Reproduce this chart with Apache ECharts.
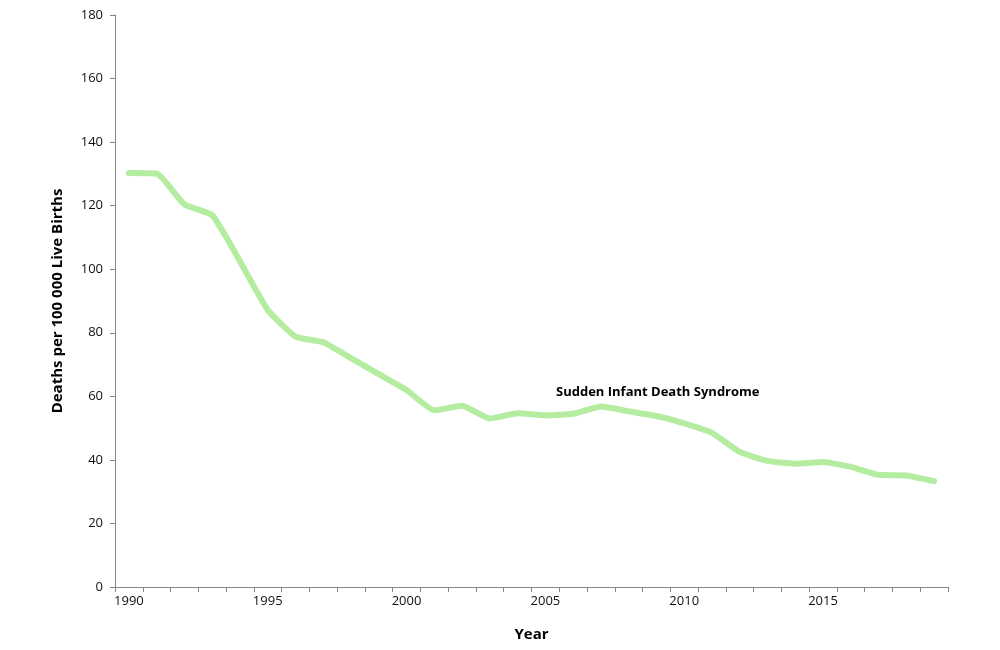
<!DOCTYPE html>
<html><head><meta charset="utf-8">
<script src="https://cdn.jsdelivr.net/npm/echarts@6/dist/echarts.min.js"></script>
<style>html,body{margin:0;padding:0;background:#fff}#c{width:1000px;height:650px}</style>
</head><body><div id="c"></div>
<script>
const years = [];
for (let y = 1990; y <= 2019; y++) years.push(String(y));
const sidsRate = [130.3, 130.1, 120.4, 117.0, 102.5, 87.2, 78.8, 77.0, 72.0, 67.0,
  62.0, 55.6, 57.0, 53.0, 54.7, 54.0, 54.5, 56.8, 55.3, 53.8,
  51.5, 48.5, 42.5, 39.7, 38.8, 39.3, 37.8, 35.3, 35.1, 33.3];
const seriesLabel = 'Sudden Infant Death Syndrome';
const yTicks = {min: 0, max: 180, interval: 20};

const font = '"Open Sans", "Noto Sans", sans-serif';
const chart = echarts.init(document.getElementById('c'));
chart.setOption({
  animation: false,
  grid: {left: 115, right: 52, top: 15, bottom: 63},
  xAxis: {
    type: 'category', data: years, boundaryGap: true,
    name: 'Year', nameLocation: 'middle', nameGap: 40,
    nameTextStyle: {fontFamily: font, fontWeight: 'bold', fontSize: 15, color: '#000'},
    axisLine: {lineStyle: {color: '#868686', width: 1}},
    axisTick: {show: true, interval: 0, length: 5, lineStyle: {color: '#868686'}},
    axisLabel: {interval: 4, fontFamily: font, fontSize: 13, color: '#111', margin: 8}
  },
  yAxis: {
    type: 'value', min: yTicks.min, max: yTicks.max, interval: yTicks.interval,
    name: 'Deaths per 100 000 Live Births', nameLocation: 'middle', nameGap: 50,
    nameTextStyle: {fontFamily: font, fontWeight: 'bold', fontSize: 15, color: '#000'},
    axisLine: {show: true, lineStyle: {color: '#868686', width: 1}},
    axisTick: {show: true, length: 5, lineStyle: {color: '#868686'}},
    splitLine: {show: false},
    axisLabel: {fontFamily: font, fontSize: 13, color: '#111', margin: 12}
  },
  series: [{
    type: 'line', name: seriesLabel, data: sidsRate, smooth: 0.15,
    showSymbol: false, symbol: 'none',
    lineStyle: {color: '#b4eca0', width: 6, cap: 'round', join: 'round'}
  }],
  graphic: [{
    type: 'text', left: 556, top: 386,
    style: {text: seriesLabel, fontFamily: font, fontWeight: 'bold', fontSize: 13, fill: '#000'}
  }]
});
</script></body></html>
